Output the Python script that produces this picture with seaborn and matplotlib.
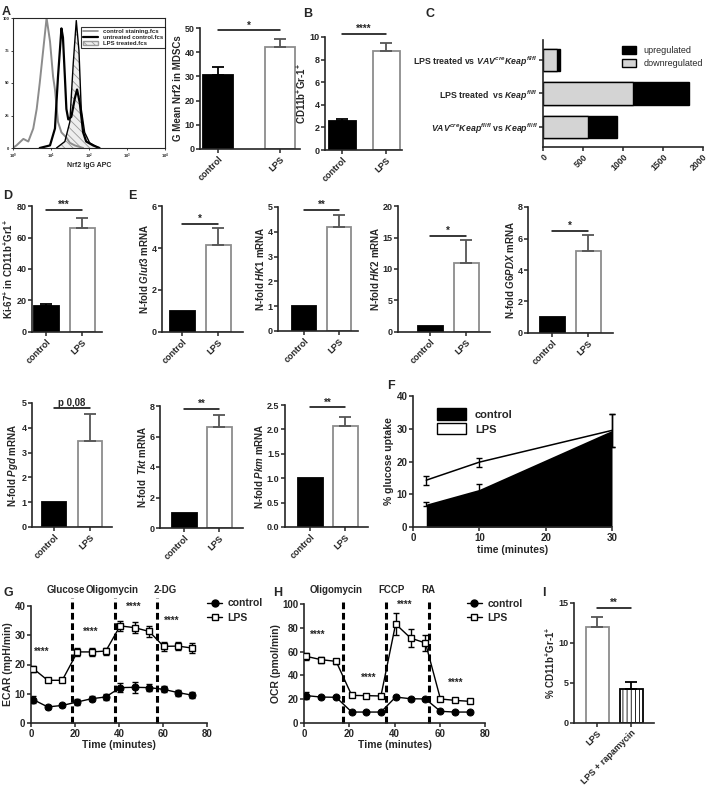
import numpy as np
import pandas as pd
import matplotlib
matplotlib.use("Agg")
import matplotlib.pyplot as plt
import seaborn as sns
from matplotlib.lines import Line2D
from matplotlib.patches import Patch

# ---------------- data ----------------
# A: flow histogram (log10 Nrf2 APC, % of max)
hist_stain_x = [0.0, 0.10, 0.28, 0.41, 0.54, 0.63, 0.71, 0.80, 0.89, 0.98, 1.06, 1.11, 1.19, 1.28, 1.41, 1.50, 1.63, 1.85]
hist_stain_y = [0, 2, 7, 5, 15, 30, 50, 75, 100, 82, 55, 45, 20, 12, 8, 4, 2, 0]
hist_untr_x = [0.71, 0.98, 1.11, 1.19, 1.28, 1.32, 1.37, 1.41, 1.46, 1.54, 1.63, 1.69, 1.76, 1.85, 1.93, 2.11, 2.28]
hist_untr_y = [0, 2, 15, 55, 92, 85, 55, 30, 22, 24, 38, 45, 35, 12, 5, 2, 0]
hist_lps_x = [1.15, 1.37, 1.50, 1.59, 1.67, 1.74, 1.80, 1.89, 2.02, 2.20, 2.28]
hist_lps_y = [0, 5, 20, 65, 98, 75, 30, 12, 4, 1, 0]

groups = ["control", "LPS"]
nrf2_mean, nrf2_err = [30.5, 42.3], [3.3, 3.0]
cd11b_mean, cd11b_err = [2.55, 8.75], [0.15, 0.75]
ki67_mean, ki67_err = [16.5, 66.0], [1.3, 6.6]
glut3_mean, glut3_err = [1.0, 4.13], [0, 0.82]
hk1_mean, hk1_err = [1.0, 4.19], [0, 0.5]
hk2_mean, hk2_err = [1.0, 11.0], [0, 3.65]
g6pdx_mean, g6pdx_err = [1.0, 5.22], [0, 0.98]
pgd_mean, pgd_err = [1.0, 3.48], [0, 1.08]
tkt_mean, tkt_err = [1.0, 6.62], [0, 0.8]
pkm_mean, pkm_err = [1.0, 2.07], [0, 0.18]
rapa_groups = ["LPS", "LPS + rapamycin"]
rapa_mean, rapa_err = [11.94, 4.31], [1.35, 0.76]

# C: number of regulated genes
comparisons = [r"LPS treated vs $\mathit{VAV}^{\mathit{cre}}\mathit{Keap}^{\mathit{fl/fl}}$",
               r"LPS treated  vs $\mathit{Keap}^{\mathit{fl/fl}}$",
               r"$\mathit{VAV}^{\mathit{cre}}\mathit{Keap}^{\mathit{fl/fl}}$ vs $\mathit{Keap}^{\mathit{fl/fl}}$"]
downregulated = [175, 1131, 561]
upregulated = [41, 699, 362]

# F: glucose uptake
f_time = [2, 10, 30]
f_control, f_control_err = [7.0, 11.5, 29.5], [0.6, 1.6, 5.0]
f_lps, f_lps_err = [14.3, 19.8, 29.5], [1.4, 1.4, 5.0]

# G / H: seahorse
sh_time = [1.0, 7.6, 14.2, 21.1, 27.5, 34.0, 40.5, 47.1, 53.7, 60.3, 66.8, 73.4]
ecar_control = [8.0, 5.5, 6.0, 7.2, 8.3, 8.9, 12.1, 12.2, 12.1, 11.5, 10.4, 9.5]
ecar_control_err = [1.2, 0.6, 0.5, 1.0, 0.8, 1.0, 1.5, 1.8, 1.3, 1.0, 1.0, 1.0]
ecar_lps = [18.6, 14.6, 14.6, 24.3, 24.3, 24.6, 33.2, 32.6, 31.3, 26.2, 26.3, 25.6]
ecar_lps_err = [1.0, 0.6, 0.6, 1.3, 1.3, 1.2, 1.8, 1.8, 1.8, 1.5, 1.5, 1.8]
ocr_control = [23.0, 21.8, 21.6, 9.2, 9.2, 9.2, 21.8, 20.4, 20.2, 9.8, 9.2, 9.2]
ocr_control_err = [3.0, 1.0, 1.0, 0.5, 0.5, 0.5, 1.0, 1.0, 1.0, 0.5, 0.5, 0.5]
ocr_lps = [56.0, 53.2, 51.8, 23.2, 23.0, 22.7, 83.2, 71.4, 67.2, 20.2, 19.0, 18.2]
ocr_lps_err = [3.0, 2.5, 2.0, 1.0, 1.0, 1.0, 9.0, 7.5, 7.0, 1.0, 1.0, 1.0]

# ---------------- style ----------------
sns.set_style("ticks")
plt.rcParams["font.family"] = ["Liberation Sans", "DejaVu Sans"]
plt.rcParams.update({
    "font.weight": "bold", "axes.labelweight": "bold",
    "axes.linewidth": 1.2, "xtick.major.width": 1.1, "ytick.major.width": 1.1,
    "xtick.major.size": 3, "ytick.major.size": 3,
    "mathtext.fontset": "custom", "mathtext.rm": "Liberation Sans:bold",
    "mathtext.it": "Liberation Sans:italic:bold", "mathtext.bf": "Liberation Sans:bold",
    "mathtext.default": "rm", "hatch.linewidth": 0.6,
})

W, H = 708, 792
fig = plt.figure(figsize=(W / 100, H / 100), dpi=100)


def rect(l, t, r, b):
    return [l / W, 1 - b / H, (r - l) / W, (b - t) / H]


def letter(x, y, s):
    fig.text(x / W, 1 - y / H, s, fontsize=9, fontweight="bold", va="top", ha="left")


def bar_panel(box, c0, c1, bw, cats, means, errs, ylabel, ymax, ystep, sig_y, sig_txt,
              faces=("black", "white"), edges=("black", "#8c8c8c"), errc=("black", "#555555"),
              hatches=(None, None)):
    l, t, r, b = box
    u = c1 - c0
    ax = fig.add_axes(rect(l, t, r, b))
    sns.barplot(x=cats, y=means, hue=cats, palette=dict(zip(cats, faces)), width=bw / u,
                errorbar=None, legend=False, saturation=1, linewidth=1.3, ax=ax)
    for p, ec, h in zip(ax.patches, edges, hatches):
        p.set_edgecolor(ec)
        if h:
            p.set_hatch(h)
    for i, (m, e, c) in enumerate(zip(means, errs, errc)):
        if e > 0:
            ax.errorbar(i, m, yerr=[[0], [e]], fmt="none", ecolor=c, elinewidth=1.3,
                        capsize=4, capthick=1.3)
    ax.set_xlim((l - c0) / u, (r - c0) / u)
    ax.set_ylim(0, ymax)
    ax.set_yticks(np.arange(0, ymax + ystep / 2, ystep))
    ax.plot([0, 1], [sig_y, sig_y], color="black", lw=1.1, clip_on=False)
    ax.text(0.5, sig_y, sig_txt, ha="center", va="bottom", fontsize=7, fontweight="bold")
    ax.set_ylabel(ylabel, fontsize=7, labelpad=1)
    ax.tick_params(labelsize=6.5, pad=1)
    plt.setp(ax.get_xticklabels(), rotation=45, ha="right", rotation_mode="anchor")
    sns.despine(ax=ax)
    return ax


# ---------------- A histogram ----------------
ax = fig.add_axes(rect(12.7, 18, 165, 148))
ax.plot(10 ** np.array(hist_stain_x), hist_stain_y, color="#8c8c8c", lw=1.4)
ax.fill_between(10 ** np.array(hist_lps_x), hist_lps_y, facecolor="#eeeeee", edgecolor="#999999",
                hatch="\\\\\\\\", lw=0)
ax.plot(10 ** np.array(hist_lps_x), hist_lps_y, color="black", lw=1.0)
ax.plot(10 ** np.array(hist_untr_x), hist_untr_y, color="black", lw=1.6)
ax.set_xscale("log")
ax.set_xlim(1, 1e4)
ax.set_ylim(0, 100)
ax.set_yticks([0, 25, 50, 75, 100])
ax.minorticks_off()
ax.tick_params(labelsize=3, length=1.5, pad=1, width=0.6)
ax.set_xlabel("Nrf2 IgG APC", fontsize=5, labelpad=1)
for s in ax.spines.values():
    s.set_linewidth(0.8)
handles = [Line2D([], [], color="#8c8c8c", lw=1.2), Line2D([], [], color="black", lw=1.6),
           Patch(facecolor="#eeeeee", edgecolor="#999999", hatch="\\\\\\\\")]
leg = ax.legend(handles, ["control staining.fcs", "untreated control.fcs", "LPS treated.fcs"],
                loc="upper right", bbox_to_anchor=(1.0, 0.93), fontsize=4.3, frameon=True,
                fancybox=False, edgecolor="black", handlelength=2.5, borderpad=0.3,
                labelspacing=0.15, borderaxespad=0)
leg.get_frame().set_linewidth(0.8)

# ---------------- A bar ----------------
bar_panel((200, 28, 300, 149), 218, 280, 30, groups, nrf2_mean, nrf2_err,
          "G Mean Nrf2 in MDSCs", 50, 10, 49, "*")
# ---------------- B ----------------
bar_panel((325, 37, 402, 150), 342, 386, 27, groups, cd11b_mean, cd11b_err,
          r"CD11b$^{+}$Gr-1$^{+}$", 10, 2, 10.3, "****")

# ---------------- C ----------------
ax = fig.add_axes(rect(543, 40, 703, 147))
totals = [d + u for d, u in zip(downregulated, upregulated)]
sns.barplot(x=totals, y=comparisons, color="black", orient="h", width=0.67, saturation=1,
            edgecolor="black", linewidth=1, ax=ax)
sns.barplot(x=downregulated, y=comparisons, color="#d4d4d4", orient="h", width=0.67, saturation=1,
            edgecolor="black", linewidth=1, ax=ax)
ax.set_ylim(2.6, -0.6)
ax.set_xlim(0, 2000)
ax.set_xticks([0, 500, 1000, 1500, 2000])
ax.tick_params(labelsize=6.3, pad=1)
plt.setp(ax.get_xticklabels(), rotation=45, ha="right", rotation_mode="anchor")
sns.despine(ax=ax)
ax.legend([Patch(facecolor="black", edgecolor="black"), Patch(facecolor="#d4d4d4", edgecolor="black")],
          ["upregulated", "downregulated"], loc="upper left", bbox_to_anchor=(0.47, 0.98),
          frameon=False, prop={"size": 6.5, "weight": "normal"}, handlelength=1.6, handleheight=1.0,
          labelspacing=0.45, borderaxespad=0)

# ---------------- D / E ----------------
bar_panel((32, 206, 102, 332), 46, 82, 25, groups, ki67_mean, ki67_err,
          r"Ki-67$^{+}$ in CD11b$^{+}$Gr1$^{+}$", 80, 20, 77.7, "***")
bar_panel((162, 206, 243, 332), 182, 218, 25, groups, glut3_mean, glut3_err,
          r"N-fold $\mathit{Glut3}$ mRNA", 6, 2, 5.16, "*")
bar_panel((278, 207, 358, 331), 304, 339, 24, groups, hk1_mean, hk1_err,
          r"N-fold $\mathit{HK1}$ mRNA", 5, 1, 4.89, "**")
bar_panel((398, 206, 490, 332), 430, 466, 25, groups, hk2_mean, hk2_err,
          r"N-fold $\mathit{HK2}$ mRNA", 20, 5, 15.2, "*")
bar_panel((528, 207, 613, 333), 552, 588, 25, groups, g6pdx_mean, g6pdx_err,
          r"N-fold $\mathit{G6PDX}$ mRNA", 8, 2, 6.5, "*")
bar_panel((32, 403, 112, 527), 54, 90, 24, groups, pgd_mean, pgd_err,
          r"N-fold $\mathit{Pgd}$ mRNA", 5, 1, 4.8, "p 0,08")
bar_panel((160, 406, 243, 528), 184, 219, 25, groups, tkt_mean, tkt_err,
          r"N-fold  $\mathit{Tkt}$ mRNA", 8, 2, 7.83, "**")
bar_panel((285, 405, 368, 527), 310, 345, 25, groups, pkm_mean, pkm_err,
          r"N-fold $\mathit{Pkm}$ mRNA", 2.5, 0.5, 2.45, "**")

# ---------------- F ----------------
ax = fig.add_axes(rect(413, 396, 612, 527))
ax.fill_between(f_time, f_lps, color="white", zorder=1)
ax.fill_between(f_time, f_control, color="black", lw=0, zorder=2)
sns.lineplot(x=f_time, y=f_lps, color="black", lw=1.1, ax=ax, zorder=3)
ax.errorbar(f_time, f_control, yerr=f_control_err, fmt="none", ecolor="black", elinewidth=1,
            capsize=2, zorder=4, clip_on=False)
ax.errorbar(f_time, f_lps, yerr=f_lps_err, fmt="none", ecolor="black", elinewidth=1,
            capsize=2, zorder=4, clip_on=False)
ax.set_xlim(0, 30)
ax.set_ylim(0, 40)
ax.set_xticks([0, 10, 20, 30])
ax.set_yticks([0, 10, 20, 30, 40])
ax.tick_params(labelsize=7, pad=1)
ax.set_xlabel("time (minutes)", fontsize=7.5, labelpad=2)
ax.set_ylabel("% glucose uptake", fontsize=7.5, labelpad=2)
sns.despine(ax=ax)
ax.legend([Patch(facecolor="black", edgecolor="black"), Patch(facecolor="white", edgecolor="black")],
          ["control", "LPS"], loc="upper left", bbox_to_anchor=(0.1, 0.94), frameon=False,
          prop={"size": 8, "weight": "bold"}, handlelength=2.6, handleheight=1.2,
          labelspacing=0.3, borderaxespad=0)


# ---------------- G / H ----------------
def seahorse(box, ctrl, ctrl_err, lps, lps_err, ymax, ystep, ylabel, vlines, line_top,
             labels, label_y, stars, leg_anchor):
    ax = fig.add_axes(rect(*box))
    ax.errorbar(sh_time, ctrl, yerr=ctrl_err, fmt="none", ecolor="black", elinewidth=1, capsize=2, zorder=2)
    ax.errorbar(sh_time, lps, yerr=lps_err, fmt="none", ecolor="black", elinewidth=1, capsize=2, zorder=2)
    sns.lineplot(x=sh_time, y=ctrl, color="black", lw=1, marker="o", markersize=5,
                 markeredgecolor="black", ax=ax, zorder=3)
    sns.lineplot(x=sh_time, y=lps, color="black", lw=1, marker="s", markersize=5,
                 markerfacecolor="white", markeredgecolor="black", markeredgewidth=1, ax=ax, zorder=3)
    for v in vlines:
        ax.plot([v, v], [0, line_top], color="black", lw=2.2, ls=(0, (2.2, 1.2)), clip_on=False, zorder=1)
    for x, s in labels:
        ax.text(x, label_y, s, ha="center", va="center", fontsize=7, fontweight="bold")
    for x, y in stars:
        ax.text(x, y, "****", ha="center", va="center", fontsize=7, fontweight="bold")
    ax.set_xlim(0, 80)
    ax.set_ylim(0, ymax)
    ax.set_xticks([0, 20, 40, 60, 80])
    ax.set_yticks(np.arange(0, ymax + 1, ystep))
    ax.tick_params(labelsize=7, pad=1)
    ax.set_xlabel("Time (minutes)", fontsize=7.5, labelpad=1)
    ax.set_ylabel(ylabel, fontsize=7.5, labelpad=1)
    sns.despine(ax=ax)
    handles = [Line2D([], [], color="black", lw=1, marker="o", markersize=5),
               Line2D([], [], color="black", lw=1, marker="s", markersize=5, markerfacecolor="white")]
    ax.legend(handles, ["control", "LPS"], loc="upper left", bbox_to_anchor=leg_anchor, frameon=False,
              prop={"size": 7.5, "weight": "bold"}, handlelength=1.5, labelspacing=0.4,
              borderaxespad=0, handletextpad=0.5)
    return ax


seahorse((31, 606, 207, 723), ecar_control, ecar_control_err, ecar_lps, ecar_lps_err, 40, 10,
         "ECAR (mpH/min)", [18.6, 38.3, 57.3], 42.7,
         [(16, "Glucose"), (37, "Oligomycin"), (61, "2-DG")], 45.5,
         [(5, 24.3), (27, 31.1), (46.7, 39.7), (64, 34.8)], (0.975, 1.1))
seahorse((304, 604, 485, 723), ocr_control, ocr_control_err, ocr_lps, ocr_lps_err, 100, 20,
         "OCR (pmol/min)", [17.1, 36.2, 55.4], 103.4,
         [(14.4, "Oligomycin"), (38.7, "FCCP"), (55, "RA")], 111.8,
         [(5.9, 74), (28.4, 37.8), (44.3, 99.4), (67.2, 33.6)], (0.875, 1.08))

# ---------------- I ----------------
bar_panel((574, 603, 654, 723), 597, 631, 23, rapa_groups, rapa_mean, rapa_err,
          r"% CD11b$^{+}$Gr-1$^{+}$", 15, 5, 14.4, "**",
          faces=("white", "white"), edges=("#8c8c8c", "black"), errc=("#555555", "black"),
          hatches=(None, "||||"))

for x, y, s in [(2, 6, "A"), (303, 8, "B"), (425, 8, "C"), (3, 190, "D"), (128, 190, "E"),
                (387, 380, "F"), (3, 587, "G"), (273, 587, "H"), (542, 587, "I")]:
    letter(x, y, s)

fig.savefig("out.png", dpi=100)
